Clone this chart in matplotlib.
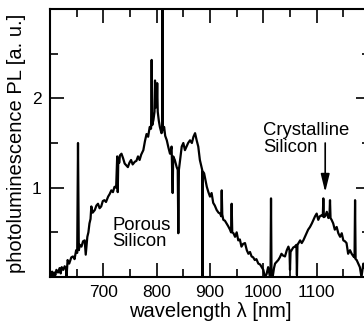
import numpy as np
import matplotlib
matplotlib.use("Agg")
import matplotlib.pyplot as plt

plt.rcParams["font.family"] = ["Liberation Sans", "DejaVu Sans"]
plt.rcParams["font.size"] = 12

# PL spectrum: wavelength [nm], intensity [a. u.]
wavelength = [
    600, 602, 604, 606, 608, 610, 612, 615, 618, 620, 622, 625, 627.5, 630, 631,
    633, 636, 640, 643, 646, 649, 651, 652.5, 654, 656, 659, 662, 665, 667, 670,
    672, 674, 676, 677.5, 680, 684, 687, 690, 693, 696, 699, 702, 705, 709, 712,
    715, 718, 721, 724, 726, 727, 728, 730, 731, 734, 737, 740, 743, 746, 749,
    752, 755, 759, 762, 765, 768, 771, 775, 778, 781, 784, 787, 789.5, 790.6,
    791.7, 794, 796, 796.9, 797.8, 799, 800, 801, 802, 804, 806, 809, 810.3, 811,
    811.7, 814, 816, 819, 822, 825, 828, 830, 831, 834, 837.5, 839.5, 840.6,
    841.7, 844, 847, 850, 853, 856, 859, 862.5, 866, 869, 872, 875, 878, 881,
    884, 885.3, 886, 886.7, 889, 891, 894, 897, 900, 903, 906, 909, 912.5, 916,
    919, 921, 922, 923, 925, 928, 931, 934, 937.5, 939.5, 940.6, 941.7, 944,
    947, 950, 953, 956, 959, 962, 965.6, 969, 972, 975, 978, 981, 984, 987,
    990.6, 994, 997, 1000, 1003, 1006, 1009, 1011, 1012.5, 1013.5, 1014.4,
    1015.3, 1017.5, 1020, 1022, 1025, 1028, 1031, 1034, 1037, 1040.6, 1044,
    1047, 1049, 1050, 1051, 1053, 1056, 1059, 1062, 1063, 1064, 1066, 1069,
    1072, 1075, 1078, 1081, 1084, 1087.5, 1091, 1094, 1097, 1100, 1103, 1106,
    1109, 1111.5, 1112.5, 1113.5, 1116, 1119, 1122, 1124, 1125, 1126, 1128,
    1131, 1134, 1137.5, 1140.6, 1144, 1147, 1150, 1153, 1156, 1159, 1162.5,
    1165.6, 1169, 1171, 1172, 1173, 1175, 1178, 1181, 1184, 1187.5, 1190, 1193,
    1196, 1200,
]
intensity = [
    0.03, 0.0, 0.06, 0.01, 0.05, 0.02, 0.08, 0.05, 0.10, 0.04, 0.11, 0.08, 0.12, 0.09, 0.0,
    0.19, 0.15, 0.22, 0.23, 0.20, 0.30, 0.27, 1.50, 0.30, 0.36, 0.34, 0.40, 0.41, 0.25, 0.45,
    0.50, 0.60, 0.65, 0.79, 0.72, 0.75, 0.80, 0.82, 0.77, 0.79, 0.85, 0.86, 0.84, 0.90, 0.93,
    0.97, 0.95, 1.01, 1.00, 1.35, 0.95, 1.30, 1.28, 1.36, 1.38, 1.33, 1.27, 1.25, 1.23, 1.28,
    1.31, 1.26, 1.29, 1.30, 1.35, 1.31, 1.37, 1.42, 1.52, 1.60, 1.57, 1.68, 1.66, 2.43,
    1.70, 1.76, 1.85, 2.20, 1.90, 1.98, 1.90, 2.17, 1.85, 1.75, 1.68, 1.61, 1.62, 3.30,
    1.65, 1.68, 1.58, 1.53, 1.45, 1.38, 1.46, 0.94, 1.35, 1.31, 1.23, 1.20, 0.49,
    1.20, 1.31, 1.46, 1.50, 1.42, 1.46, 1.50, 1.53, 1.50, 1.57, 1.61, 1.53, 1.46, 1.31,
    1.23, 1.20, 0.0, 1.18, 1.16, 1.10, 1.01, 0.95, 0.90, 0.94, 0.83, 0.80, 0.75, 0.72,
    0.71, 0.68, 0.97, 0.70, 0.64, 0.63, 0.60, 0.57, 0.53, 0.50, 0.82, 0.50, 0.49,
    0.45, 0.50, 0.41, 0.42, 0.34, 0.37, 0.38, 0.30, 0.26, 0.28, 0.23, 0.22, 0.19, 0.20,
    0.15, 0.14, 0.11, 0.08, 0.0, 0.03, 0.11, 0.05, 0.0, 0.05, 0.88,
    0.05, 0.0, 0.10, 0.15, 0.17, 0.19, 0.22, 0.26, 0.24, 0.23, 0.30,
    0.34, 0.30, 0.08, 0.28, 0.30, 0.33, 0.34, 0.36, 0.02, 0.36, 0.38, 0.41,
    0.38, 0.41, 0.45, 0.49, 0.53, 0.56, 0.60, 0.64, 0.68, 0.71, 0.64, 0.68,
    0.69, 0.68, 0.88, 0.67, 0.68, 0.73, 0.66, 0.68, 0.86, 0.66, 0.64,
    0.60, 0.53, 0.56, 0.49, 0.45, 0.49, 0.41, 0.40, 0.38, 0.26, 0.30,
    0.26, 0.23, 0.22, 0.86, 0.20, 0.19, 0.15, 0.11, 0.0, 0.15, 0.10, 0.18,
    0.20, 0.22,
]

fig = plt.figure(figsize=(3.64, 3.34), dpi=100)
# axes run past the right edge of the figure, as in the cropped original
ax = fig.add_axes([50 / 364, 57 / 334, 320 / 364, 268 / 334])

ax.plot(wavelength, intensity, color="black", lw=1.6)

ax.set_xlim(600, 1200)
ax.set_ylim(0, 3)
ax.set_xticks([700, 800, 900, 1000, 1100])
ax.set_xticks(np.arange(650, 1200, 100), minor=True)
ax.set_yticks([1, 2])
ax.set_yticks([0.5, 1.5, 2.5], minor=True)

ax.tick_params(which="both", direction="in", top=True, right=True, width=1.2)
ax.tick_params(which="major", length=10, pad=6, labelsize=12.5)
ax.tick_params(which="minor", length=6)
for s in ax.spines.values():
    s.set_linewidth(1.5)

ax.set_xlabel("wavelength λ [nm]", fontsize=14.5, labelpad=1)
ax.set_ylabel("photoluminescence PL [a. u.]", fontsize=14.5, labelpad=4)

ax.text(717, 0.67, "Porous\nSilicon", va="top", ha="left", fontsize=13.3, linespacing=0.95)
ax.text(1000, 1.73, "Crystalline\nSilicon", va="top", ha="left", fontsize=13.3, linespacing=0.95)
ax.annotate("", xy=(1116, 0.95), xytext=(1116, 1.5),
            arrowprops=dict(arrowstyle="-|>,head_length=0.9,head_width=0.22",
                            color="black", lw=1.2, shrinkA=0, shrinkB=0))

fig.savefig("out.png", dpi=100)
